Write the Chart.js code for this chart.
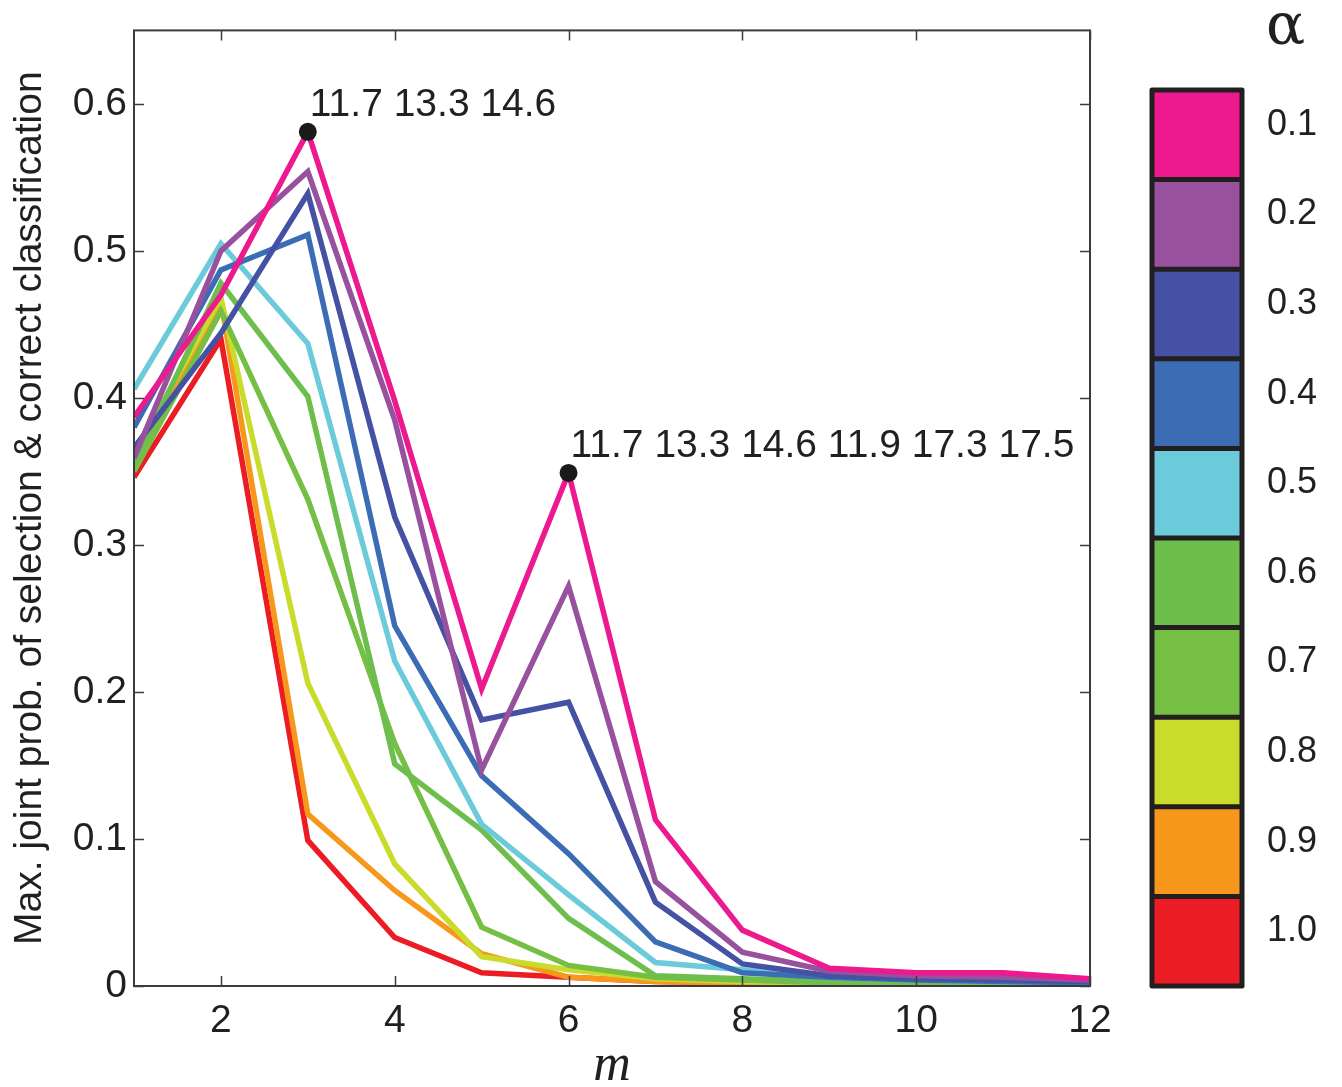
<!DOCTYPE html>
<html>
<head>
<meta charset="utf-8">
<title>Max. joint prob. of selection &amp; correct classification</title>
<script src="https://cdn.jsdelivr.net/npm/chart.js@4.4.0/dist/chart.umd.min.js"></script>
<style>
html, body { margin:0; padding:0; background:#ffffff; }
#wrap { position:relative; width:1342px; height:1087px; }
</style>
</head>
<body>
<div id="wrap"><canvas id="mChart"></canvas></div>
<script>
//=========================================
// Data
//=========================================
let mValues = [1, 2, 3, 4, 5, 6, 7, 8, 9, 10, 11, 12];

let alphaLabels = ["0.1", "0.2", "0.3", "0.4", "0.5", "0.6", "0.7", "0.8", "0.9", "1.0"];

let alphaColors = ["#ec198f", "#97519e", "#4551a3", "#3b6cb4", "#6ccbda",
                   "#6dbe4c", "#74bf44", "#c9db2b", "#f7981d", "#ec1c24"];

let a01 = [0.387, 0.470, 0.581, 0.398, 0.202, 0.349, 0.113, 0.038, 0.012, 0.009, 0.009, 0.005];
let a02 = [0.359, 0.500, 0.554, 0.385, 0.147, 0.272, 0.071, 0.023, 0.010, 0.007, 0.006, 0.004];
let a03 = [0.366, 0.444, 0.539, 0.319, 0.181, 0.193, 0.057, 0.015, 0.007, 0.005, 0.004, 0.003];
let a04 = [0.380, 0.487, 0.511, 0.245, 0.143, 0.090, 0.030, 0.009, 0.006, 0.004, 0.003, 0.002];
let a05 = [0.406, 0.505, 0.437, 0.221, 0.110, 0.062, 0.016, 0.011, 0.006, 0.004, 0.003, 0.002];
let a06 = [0.355, 0.478, 0.401, 0.151, 0.106, 0.046, 0.007, 0.005, 0.003, 0.002, 0.002, 0.001];
let a07 = [0.350, 0.459, 0.331, 0.165, 0.040, 0.014, 0.006, 0.004, 0.002, 0.002, 0.001, 0.001];
let a08 = [0.362, 0.468, 0.206, 0.083, 0.020, 0.011, 0.005, 0.003, 0.002, 0.001, 0.001, 0.001];
let a09 = [0.352, 0.466, 0.117, 0.065, 0.022, 0.006, 0.003, 0.002, 0.001, 0.001, 0.001, 0.001];
let a10 = [0.346, 0.440, 0.099, 0.033, 0.009, 0.006, 0.003, 0.002, 0.001, 0.001, 0.001, 0.001];

let seriesList = [a01, a02, a03, a04, a05, a06, a07, a08, a09, a10];

let xTicks = [2, 4, 6, 8, 10, 12];
let yTicks = [0, 0.1, 0.2, 0.3, 0.4, 0.5, 0.6];

// marked maxima and their text
let peakM = [3, 6];
let peakValues = [0.581, 0.349];
let peakLabels = ["11.7 13.3 14.6", "11.7 13.3 14.6 11.9 17.3 17.5"];

//=========================================
// Datasets
//=========================================
let datasets = [];

seriesList.forEach(function(s, k){
    datasets.push({
        label: "\u03b1 = " + alphaLabels[k],
        data: mValues.map(function(m, i){ return {x: m, y: s[i]}; }),
        borderColor: alphaColors[k],
        borderWidth: 5.5,
        pointRadius: 0,
        fill: false,
        tension: 0
    });
});

datasets.push({
    label: "peaks",
    data: peakM.map(function(m, i){ return {x: m, y: peakValues[i]}; }),
    showLine: false,
    pointRadius: 9,
    pointBackgroundColor: "#1a1a1a",
    pointBorderWidth: 0,
    order: -1
});

let peakIndex = datasets.length - 1;

//------------------------------------
// frame, inner ticks, labels, colorbar
//------------------------------------
const extrasPlugin = {
    id: "extras",
    afterDraw(chart){
        const ctx = chart.ctx;
        const a = chart.chartArea;
        const xs = chart.scales.x;
        const ys = chart.scales.y;

        ctx.save();

        // box and ticks
        ctx.strokeStyle = "#3c3c3c";
        ctx.lineWidth = 2;
        ctx.strokeRect(a.left, a.top, a.right - a.left, a.bottom - a.top);

        ctx.beginPath();
        xTicks.forEach(function(v){
            const px = Math.round(xs.getPixelForValue(v)) + 0.5;
            ctx.moveTo(px, a.bottom); ctx.lineTo(px, a.bottom - 10);
            ctx.moveTo(px, a.top); ctx.lineTo(px, a.top + 10);
        });
        yTicks.forEach(function(v){
            const py = Math.round(ys.getPixelForValue(v)) + 0.5;
            ctx.moveTo(a.left, py); ctx.lineTo(a.left + 10, py);
            ctx.moveTo(a.right, py); ctx.lineTo(a.right - 10, py);
        });
        ctx.lineWidth = 1.5;
        ctx.stroke();

        // text beside the marked maxima
        const meta = chart.getDatasetMeta(peakIndex);
        ctx.fillStyle = "#231f20";
        ctx.font = "39px 'Liberation Sans', Arial, sans-serif";
        ctx.textAlign = "left";
        ctx.textBaseline = "alphabetic";
        meta.data.forEach(function(pt, i){
            ctx.fillText(peakLabels[i], pt.x + 2, pt.y - 16);
        });

        // colorbar
        const cbLeft = 1152, cbRight = 1242, cbTop = 90, cbBottom = 986;
        const cellH = (cbBottom - cbTop) / alphaColors.length;
        alphaColors.forEach(function(c, i){
            ctx.fillStyle = c;
            ctx.fillRect(cbLeft, cbTop + i * cellH, cbRight - cbLeft, cellH);
        });
        ctx.strokeStyle = "#231f20";
        ctx.lineWidth = 5;
        ctx.lineJoin = "round";
        ctx.strokeRect(cbLeft, cbTop, cbRight - cbLeft, cbBottom - cbTop);
        ctx.beginPath();
        for (let i = 1; i < alphaColors.length; i++){
            ctx.moveTo(cbLeft, cbTop + i * cellH);
            ctx.lineTo(cbRight, cbTop + i * cellH);
        }
        ctx.stroke();

        ctx.fillStyle = "#231f20";
        ctx.font = "36px 'Liberation Sans', Arial, sans-serif";
        ctx.textBaseline = "middle";
        alphaLabels.forEach(function(t, i){
            ctx.fillText(t, 1267, cbTop + (i + 0.5) * cellH - 10);
        });

        ctx.font = "58px 'DejaVu Serif', 'Liberation Serif', serif";
        ctx.textBaseline = "alphabetic";
        ctx.fillText("\u03b1", 1266, 44);

        ctx.restore();
    }
};

//=========================================
// Chart
//=========================================
let mChart;

window.addEventListener("load", function(){

    mChart = new Chart(
        document.getElementById("mChart"),
        {
            type: "line",
            data: { datasets: datasets },
            options: {
                responsive: true,
                maintainAspectRatio: false,
                animation: false,
                layout: { padding: { left: 0, right: 252, top: 30, bottom: 0 } },
                plugins: {
                    legend: { display: false },
                    tooltip: { enabled: false }
                },
                scales: {
                    x: {
                        type: "linear",
                        min: 1,
                        max: 12,
                        afterBuildTicks: function(s){ s.ticks = xTicks.map(function(v){ return {value: v}; }); },
                        afterFit: function(s){ s.height = 101; },
                        grid: { display: false, drawTicks: false },
                        border: { display: false },
                        ticks: {
                            color: "#231f20",
                            padding: 12,
                            maxRotation: 0,
                            font: { family: "'Liberation Sans', Arial, sans-serif", size: 39 }
                        },
                        title: {
                            display: true,
                            text: "m",
                            color: "#231f20",
                            padding: { top: 0, bottom: 0 },
                            font: { family: "'Liberation Serif', serif", style: "italic", size: 52, lineHeight: 0.8 }
                        }
                    },
                    y: {
                        min: 0,
                        max: 0.65,
                        afterBuildTicks: function(s){ s.ticks = yTicks.map(function(v){ return {value: v}; }); },
                        afterFit: function(s){ s.width = 134; },
                        grid: { display: false, drawTicks: false },
                        border: { display: false },
                        ticks: {
                            color: "#231f20",
                            padding: 7,
                            font: { family: "'Liberation Sans', Arial, sans-serif", size: 39 },
                            callback: function(v){ return v === 0 ? "0" : v.toFixed(1); }
                        },
                        title: {
                            display: true,
                            text: "Max. joint prob. of selection & correct classification",
                            color: "#231f20",
                            padding: { top: 11, bottom: 0 },
                            font: { family: "'Liberation Sans', Arial, sans-serif", size: 39, lineHeight: 1 }
                        }
                    }
                }
            },
            plugins: [extrasPlugin]
        }
    );

});
</script>
</body>
</html>
